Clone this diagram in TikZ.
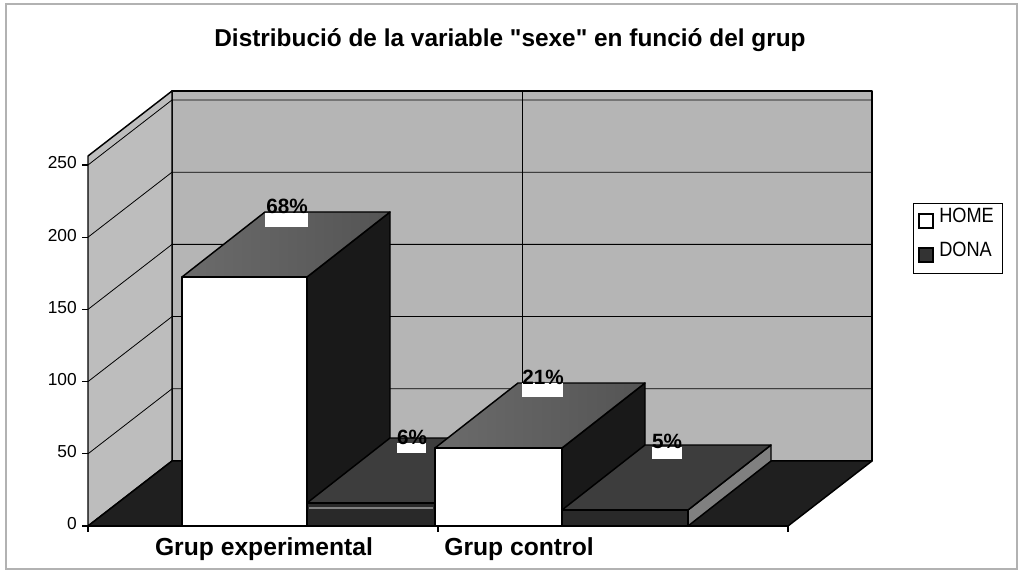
\documentclass[tikz,border=0pt]{standalone}
\usepackage{fontspec}
\setmainfont{Liberation Sans}[Ligatures=TeXOff]
\newfontfamily\legendfont[FakeStretch=0.88]{Liberation Sans}
\definecolor{wallback}{gray}{0.71}
\definecolor{wallside}{gray}{0.74}
\definecolor{floordark}{gray}{0.12}
\definecolor{hometopl}{gray}{0.42}
\definecolor{hometopr}{gray}{0.33}
\definecolor{homeside}{gray}{0.10}
\definecolor{donafront}{gray}{0.16}
\definecolor{donatop}{gray}{0.24}
\definecolor{donaside}{gray}{0.50}
\tikzset{
    face/.style={draw=black, line width=1.1pt, line join=round},
    gridline/.style={black, line width=0.6pt},
    pct/.style={font=\bfseries\fontsize{15.5}{16}\selectfont, inner sep=0pt, anchor=base},
    ticklabel/.style={font=\fontsize{13}{14}\selectfont, inner sep=0pt, anchor=east},
    catlabel/.style={font=\bfseries\fontsize{18.5}{20}\selectfont, inner sep=0pt, anchor=base},
    legendlabel/.style={font=\legendfont\fontsize{15.5}{16}\selectfont, inner sep=0pt, anchor=base west}
}
\begin{document}
\begin{tikzpicture}[x=0.75pt, y=-0.75pt]
        \useasboundingbox (0,0) rectangle (1020,573);
        \draw[gray!60, line width=1pt] (6,4) rectangle (1017,569);
        \node[font=\bfseries\fontsize{18.3}{20}\selectfont, inner sep=0pt, anchor=base] (title) at (510,47)
            {Distribució de la variable "sexe" en funció del grup};
        % walls and floor
        \draw[face, fill=wallback] (172,91) rectangle (872,461);
        \draw[face, fill=wallside] (88,526) -- (88,156) -- (172,91) -- (172,461) -- cycle;
        \foreach \v in {50,100,...,250} {
            \draw[gridline] (88,{526-1.444*\v}) -- (172,{461-1.444*\v}) -- (872,{461-1.444*\v});
        }
        \draw[gridline] (522,91) -- (522,461);
        \draw[face, fill=floordark] (88,526) -- (172,461) -- (872,461) -- (788,526) -- cycle;
        % Grup experimental
        \draw[face, fill=homeside] (307,526) -- (307,277) -- (390,212) -- (390,461) -- cycle;
        \draw[face, left color=hometopl, right color=hometopr] (182,277) -- (265,212) -- (390,212) -- (307,277) -- cycle;
        \draw[face, fill=white] (182,277) rectangle (307,526);
        \draw[face, fill=donaside] (435,503) -- (518,438) -- (518,461) -- (435,526) -- cycle;
        \draw[face, fill=donatop] (307,503) -- (390,438) -- (518,438) -- (435,503) -- cycle;
        \draw[face, fill=donafront] (307,503) rectangle (435,526);
        \draw[gray, line width=0.8pt] (309,508) -- (433,508);
        % Grup control
        \draw[face, fill=homeside] (562,526) -- (562,448) -- (645,383) -- (645,461) -- cycle;
        \draw[face, left color=hometopl, right color=hometopr] (435,448) -- (518,383) -- (645,383) -- (562,448) -- cycle;
        \draw[face, fill=white] (435,448) rectangle (562,526);
        \draw[face, fill=donaside] (688,510) -- (771,445) -- (771,461) -- (688,526) -- cycle;
        \draw[face, fill=donatop] (562,510) -- (645,445) -- (771,445) -- (688,510) -- cycle;
        \draw[face, fill=donafront] (562,510) rectangle (688,526);
        % axes
        \draw[line width=1pt] (88,526) -- (788,526);
        \foreach \x in {88,438,788} {
            \draw[line width=0.8pt] (\x,526) -- (\x,532);
        }
        \foreach \v in {0,50,...,250} {
            \draw[line width=0.8pt] (82,{526-1.444*\v}) -- (88,{526-1.444*\v});
            \node[ticklabel] (tick\v) at (77,{524-1.444*\v}) {\v};
        }
        % percentages
        \fill[white] (265,213) rectangle (308,227);
        \node[pct] (pct68) at (287,214) {68\%};
        \fill[white] (397,443) rectangle (426,453);
        \node[pct] (pct6) at (412,444) {6\%};
        \fill[white] (522,383) rectangle (563,397);
        \node[pct] (pct21) at (543,384) {21\%};
        \fill[white] (652,447) rectangle (682,459);
        \node[pct] (pct5) at (667,448) {5\%};
        % categories
        \node[catlabel] (catexp) at (264,555) {Grup experimental};
        \node[catlabel] (catctrl) at (519,555) {Grup control};
        % legend
        \draw[line width=0.6pt] (913,203) rectangle (1002,273);
        \draw[line width=1pt, fill=white] (919,214) rectangle (933,228);
        \draw[line width=1pt, fill=gray!40!black] (919,248) rectangle (933,262);
        \node[legendlabel] (home) at (939,223) {HOME};
        \node[legendlabel] (dona) at (939,257) {DONA};
    \end{tikzpicture}
\end{document}
